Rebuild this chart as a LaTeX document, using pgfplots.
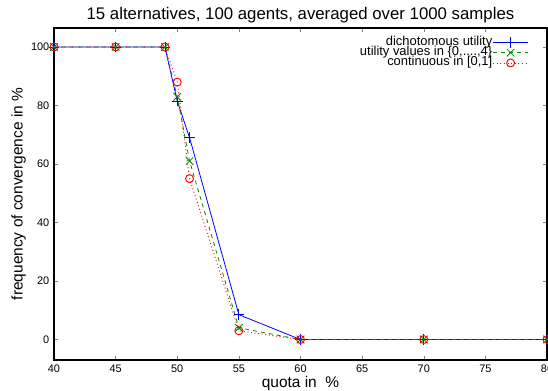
\documentclass[border=0pt]{standalone}
\usepackage{fontspec}
\setmainfont{Liberation Sans}
\usepackage{pgfplots}
\pgfplotsset{compat=1.18}
\definecolor{gpblue}{RGB}{0,0,255}
\definecolor{gpgreen}{RGB}{0,140,0}
\definecolor{gpred}{RGB}{255,0,0}
\begin{document}
\begin{tikzpicture}
\begin{axis}[
  scale only axis,
  width=369.75pt, height=249pt,
  xmin=40, xmax=80, ymin=-7, ymax=106.5,
  xtick={40,45,...,80}, ytick={0,20,...,100},
  tick align=inside, tick pos=both,
  major tick length=3pt,
  /pgf/number format/assume math mode=true,
  ticklabel style={font=\fontsize{8.2}{9}\selectfont},
  axis line style={line width=0.8pt},
  title={15 alternatives, 100 agents, averaged over 1000 samples},
  title style={font=\fontsize{12.6}{14}\selectfont, yshift=-5.5pt},
  xlabel={quota in \ \%},
  ylabel={frequency of convergence in \%},
  label style={font=\fontsize{11.6}{13}\selectfont},
  xlabel style={yshift=4pt},
  ylabel style={yshift=-3pt},
  legend style={at={(0.963,0.974)}, anchor=north east, draw=none, fill=none,
    font=\fontsize{9.7}{7.5}\selectfont, row sep=0pt, inner sep=0pt,
    nodes={inner sep=0.3pt, text height=5.8pt, text depth=1.3pt}},
  legend cell align=right,
  legend plot pos=right,
  legend image code/.code={
    \draw[mark repeat=2,mark phase=2,#1] plot coordinates {(0cm,0cm) (0.46cm,0cm) (0.92cm,0cm)};
  },
]
\addplot[gpblue, solid, line width=0.6pt, mark=+, mark size=4pt, mark options={solid}] coordinates {
  (40,100) (45,100) (49,100) (50,81.5) (51,69) (55,8.5) (60,0) (70,0) (80,0)};
\addlegendentry{dichotomous utility}
\addplot[gpgreen, dashed, line width=0.6pt, mark=x, mark size=4pt, mark options={solid}] coordinates {
  (40,100) (45,100) (49,100) (50,83) (51,61) (55,4) (60,0) (70,0) (80,0)};
\addlegendentry{utility values in \{0,....,4\}}
\addplot[gpred, dotted, line width=0.7pt, mark=o, mark size=3pt, mark options={solid}] coordinates {
  (40,100) (45,100) (49,100) (50,88) (51,55) (55,3) (60,0) (70,0) (80,0)};
\addlegendentry{continuous in [0,1]}
\end{axis}
\pgfresetboundingbox
\path (-40.5pt,-22.5pt) rectangle (370.5pt,270pt);
\end{tikzpicture}
\end{document}
